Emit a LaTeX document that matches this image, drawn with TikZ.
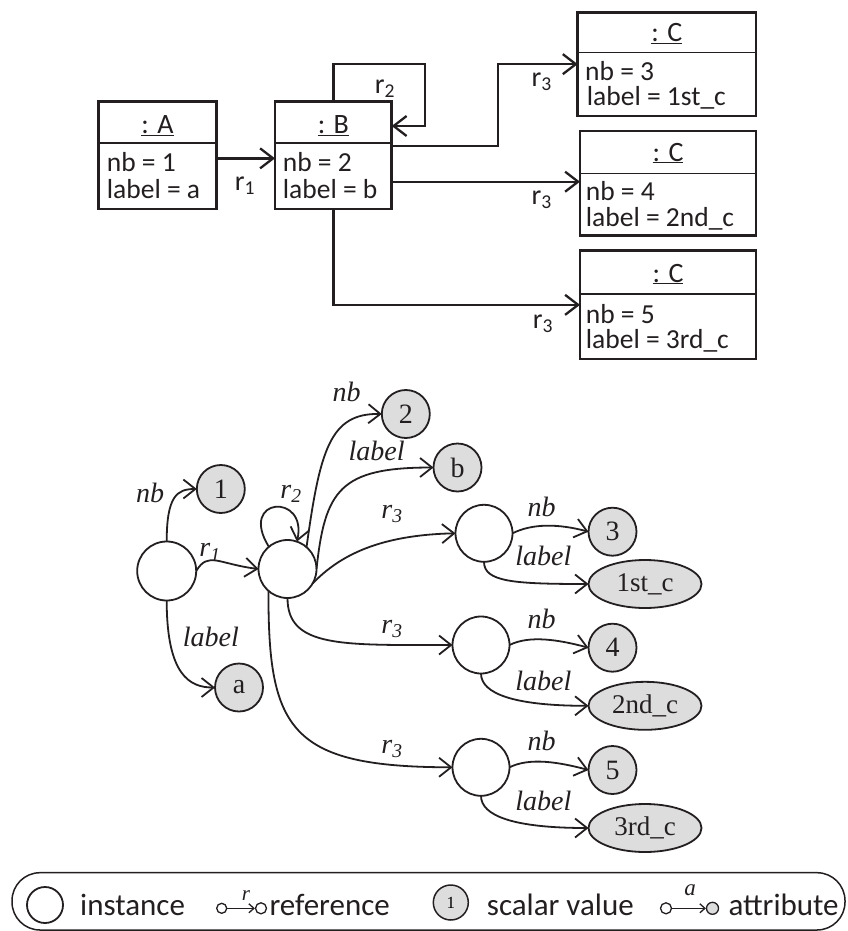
\documentclass[tikz,border=0pt]{standalone}
\usepackage{fontspec}
\setmainfont{Liberation Serif}
\newfontfamily\calf{Carlito}
\usetikzlibrary{arrows.meta,shapes.geometric,calc}
\definecolor{valgray}{HTML}{DDDDDD}
\definecolor{ink}{HTML}{231F20}
\begin{document}
\begin{tikzpicture}[x=1pt,y=-1pt,
  umlbox/.style={draw=ink,line width=2.6pt,rectangle,inner sep=0,outer sep=0},
  umlline/.style={draw=ink,line width=1.6pt},
  boxtxt/.style={font=\calf\fontsize{27.5}{28}\selectfont,inner sep=0,anchor=base west,text=ink,text height=18pt,text depth=5pt},
  headtxt/.style={font=\calf\fontsize{28}{28}\selectfont,inner sep=0,anchor=base,text=ink},
  toparr/.style={draw=ink,line width=2.3pt,-{Straight Barb[length=13pt,width=20pt]}},
  inst/.style={draw=ink,circle,line width=1.8pt,minimum size=57,inner sep=0,outer sep=0},
  val/.style={draw=ink,circle,fill=valgray,line width=1.8pt,minimum size=48,inner sep=0,outer sep=0,font=\fontsize{28}{28}\selectfont,text=ink},
  valell/.style={draw=ink,ellipse,fill=valgray,line width=1.8pt,minimum width=113,minimum height=48,inner sep=0,outer sep=0,font=\fontsize{27}{27}\selectfont,text=ink},
  garr/.style={draw=ink,line width=1.8pt,-{Straight Barb[length=12pt,width=19pt]}},
  elab/.style={font=\itshape\fontsize{28}{28}\selectfont,inner sep=0,anchor=base,text=ink},
  legtxt/.style={font=\calf\fontsize{31}{31}\selectfont,inner sep=0,anchor=base west,text=ink},
  smarr/.style={draw=ink,line width=1.3pt,-{Straight Barb[length=5pt,width=9pt]}}
]
\useasboundingbox (0,0) rectangle (847,931);

% ---------- top UML object diagram ----------
\node[umlbox,minimum width=118.4,minimum height=107.3] (A) at (157.5,155.35) {};
\node[umlbox,minimum width=116.7,minimum height=107.3] (B) at (333.35,155.35) {};
\node[umlbox,minimum width=178.3,minimum height=103.7] (C1) at (666.85,64.15) {};
\node[umlbox,minimum width=176,minimum height=104.7] (C2) at (668,183.35) {};
\node[umlbox,minimum width=176,minimum height=108.3] (C3) at (668,304.85) {};
\draw[umlline] ($(A.north west)+(0,41)$) -- ($(A.north east)+(0,41)$);
\draw[umlline] ($(B.north west)+(0,41)$) -- ($(B.north east)+(0,41)$);
\draw[umlline] ($(C1.north west)+(0,40.4)$) -- ($(C1.north east)+(0,40.4)$);
\draw[umlline] ($(C2.north west)+(0,42.3)$) -- ($(C2.north east)+(0,42.3)$);
\draw[umlline] ($(C3.north west)+(0,43.3)$) -- ($(C3.north east)+(0,43.3)$);

\node[headtxt] (Ah) at (157.5,133.5) {\underline{: A}};
\node[headtxt] (Bh) at (333.35,133.5) {\underline{: B}};
\node[headtxt] (C1h) at (666.85,42) {\underline{: C}};
\node[headtxt] (C2h) at (668,161) {\underline{: C}};
\node[headtxt] (C3h) at (668,282) {\underline{: C}};

\node[boxtxt] (Aa1) at (106.7,171.7) {nb = 1};
\node[boxtxt] (Aa2) at (106.7,198.3) {label = a};
\node[boxtxt] (Ba1) at (282.7,171.7) {nb = 2};
\node[boxtxt] (Ba2) at (282.7,198.3) {label = b};
\node[boxtxt] (C1a1) at (585,80.7) {nb = 3};
\node[boxtxt] (C1a2) at (586.7,106) {label = 1st\_c};
\node[boxtxt] (C2a1) at (585.7,200) {nb = 4};
\node[boxtxt] (C2a2) at (585.7,226.7) {label = 2nd\_c};
\node[boxtxt] (C3a1) at (585.7,323.3) {nb = 5};
\node[boxtxt] (C3a2) at (585.7,348.3) {label = 3rd\_c};

\draw[toparr] ([yshift=-3pt]A.east) -- ([yshift=-3pt]B.west);
\draw[toparr] (B.north) -- ++(0,-37.7) -| ([xshift=33.3pt,yshift=29.35pt]B.east) -- ([yshift=29.35pt]B.east);
\draw[toparr] ([yshift=9.35pt]B.east) -| ($(C1.west)+(-79.7,0)$) -- (C1.west);
\draw[toparr] ([yshift=-26.35pt]B.east) -- ([yshift=-26.35pt]B.east -| C2.west);
\draw[toparr] (B.south) |- (C3.west);

\node[headtxt] (lr1) at (245,190) {r\textsubscript{1}};
\node[headtxt] (lr2) at (385,93.3) {r\textsubscript{2}};
\node[headtxt] (lr3a) at (541.7,86.7) {r\textsubscript{3}};
\node[headtxt] (lr3b) at (541.7,204) {r\textsubscript{3}};
\node[headtxt] (lr3c) at (543,328.3) {r\textsubscript{3}};

% ---------- bottom graph ----------
\node[inst,minimum size=59] (iA) at (166.7,571) {};
\node[val] (v1) at (220.8,489) {1};
\node[val] (va) at (239,687.5) {a};
\node[inst,minimum size=58] (iB) at (287.5,569) {};
\node[val] (v2) at (405.8,414) {2};
\node[val] (vb) at (457.5,467.5) {b};
\node[inst] (iC1) at (484,533.3) {};
\node[val] (v3) at (612.5,531.7) {3};
\node[valell] (e1) at (645,584) {1st\_c};
\node[inst] (iC2) at (481,645) {};
\node[val] (v4) at (612.5,647.7) {4};
\node[valell] (e2) at (645,705.8) {2nd\_c};
\node[inst] (iC3) at (481,767.3) {};
\node[val] (v5) at (612.5,770) {5};
\node[valell] (e3) at (645,828) {3rd\_c};

\draw[garr] (iA.north) .. controls +(0,-45) and +(-20,0) .. (v1.west);
\draw[garr] (iA.south) .. controls +(0,75) and +(-25,0) .. (va.west);
\draw[garr] (iA.east) .. controls +(12,-20) and +(-40,-5) .. (iB.west);
\draw[garr] (iB.130) .. controls +(-31,-50) and +(11,-49) .. (iB.71);
\draw[garr] (iB.49) .. controls (320,450) and (330,413) .. (v2.west);
\draw[garr] (iB.east) .. controls (325,490) and (340,467.5) .. (vb.west);
\draw[garr] (iB.-30) .. controls (340,555) and (380,535) .. (iC1.west);
\draw[garr] (iB.south) .. controls +(0,50) and +(-110,0) .. (iC2.west);
\draw[garr] (iB.229) .. controls (268,730) and (290,767) .. (iC3.west);

\draw[garr] (iC1.east) .. controls +(20,-10) and +(-30,-8) .. (v3.west);
\draw[garr] (iC1.south) .. controls +(0,20) and +(-75,0) .. (e1.west);
\draw[garr] (iC2.east) .. controls +(20,-10) and +(-30,-8) .. (v4.west);
\draw[garr] (iC2.south) .. controls +(0,20) and +(-75,0) .. (e2.west);
\draw[garr] (iC3.east) .. controls +(20,-10) and +(-30,-8) .. (v5.west);
\draw[garr] (iC3.south) .. controls +(0,20) and +(-75,0) .. (e3.west);

\node[elab] (tnbA) at (150,502.7) {nb};
\node[elab] (tlabA) at (210.8,646.7) {label};
\node[elab] (tr1) at (210,556.7) {r\textsubscript{1}};
\node[elab] (tr2) at (291,498.3) {r\textsubscript{2}};
\node[elab] (tnbB) at (346.7,401.7) {nb};
\node[elab] (tlabB) at (376.7,460) {label};
\node[elab] (tr3a) at (392,518.3) {r\textsubscript{3}};
\node[elab] (tr3b) at (392,633.3) {r\textsubscript{3}};
\node[elab] (tr3c) at (392,753.3) {r\textsubscript{3}};
\node[elab] (tnbC1) at (541.7,516.7) {nb};
\node[elab] (tlabC1) at (543.3,565) {label};
\node[elab] (tnbC2) at (541.7,628.3) {nb};
\node[elab] (tlabC2) at (543.3,690) {label};
\node[elab] (tnbC3) at (541.7,750) {nb};
\node[elab] (tlabC3) at (543.3,810) {label};

% ---------- legend ----------
\node[draw=ink,line width=1.5pt,rounded corners=28pt,minimum width=833,minimum height=57.3,inner sep=0] (leg) at (428.5,901.35) {};
\node[draw=ink,circle,line width=1.8pt,minimum size=36,inner sep=0] (lgi) at (45,905) {};
\node[legtxt] (lgit) at (80,915) {instance};
\node[draw=ink,circle,line width=1.3pt,minimum size=10,inner sep=0] (lr0) at (221.7,908.3) {};
\node[draw=ink,circle,line width=1.3pt,minimum size=11,inner sep=0] (lr9) at (261,908.3) {};
\draw[smarr] (lr0) -- (lr9);
\node[elab,font=\itshape\fontsize{21}{21}\selectfont] (lrt) at (246,900) {r};
\node[legtxt] (lgrt) at (269.3,915) {reference};
\node[draw=ink,circle,fill=valgray,line width=1.5pt,minimum size=35,inner sep=0,font=\fontsize{17}{17}\selectfont] (lgv) at (450.8,902.5) {1};
\node[legtxt] (lgvt) at (486.7,915) {scalar value};
\node[draw=ink,circle,line width=1.3pt,minimum size=11,inner sep=0] (la0) at (666,908.3) {};
\node[draw=ink,circle,fill=valgray,line width=1.3pt,minimum size=12,inner sep=0] (la9) at (712.5,908.3) {};
\draw[smarr] (la0) -- (la9);
\node[elab,font=\itshape\fontsize{23}{23}\selectfont] (lat) at (690,895) {a};
\node[legtxt] (lgat) at (728.3,915) {attribute};
\end{tikzpicture}
\end{document}
